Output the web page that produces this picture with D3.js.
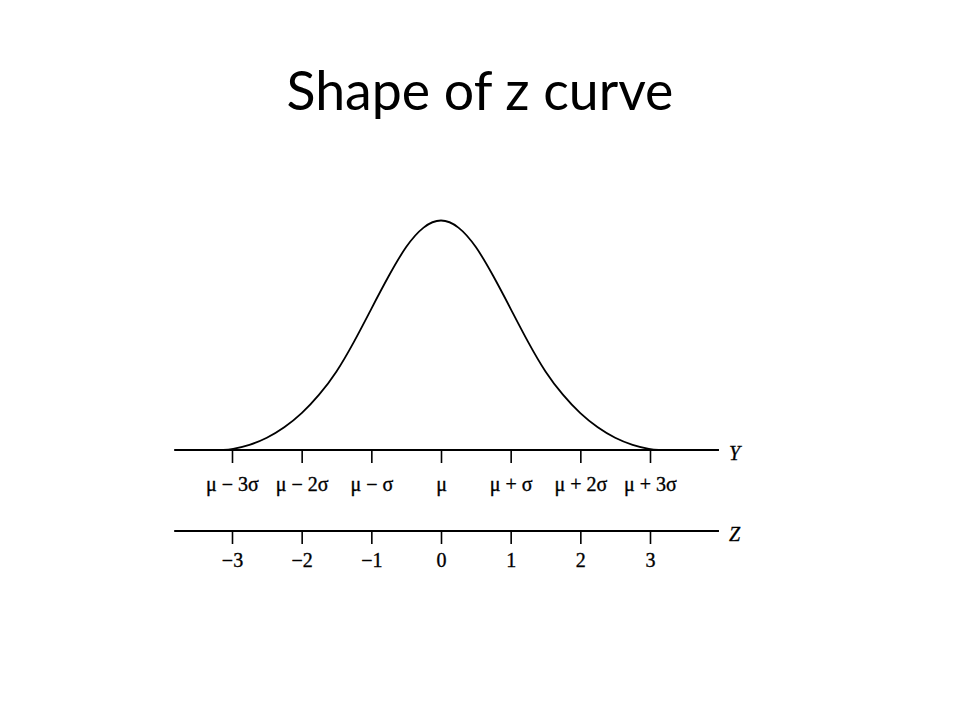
<!DOCTYPE html>
<html><head><meta charset="utf-8">
<script src="https://cdn.jsdelivr.net/npm/d3@7"></script>
<style>body{margin:0;background:#fff}svg{display:block}</style>
</head><body>
<svg id="c" width="960" height="720"></svg>
<script>
// Data
const title = "Shape of z curve";
const zTicks = [-3, -2, -1, 0, 1, 2, 3];
const yTickLabels = ["μ − 3σ", "μ − 2σ", "μ − σ", "μ", "μ + σ", "μ + 2σ", "μ + 3σ"];
const zTickLabels = ["−3", "−2", "−1", "0", "1", "2", "3"];
const curveZ = [-3.15, -3, -2.75, -2.5, -2.25, -2, -1.75, -1.5, -1.25, -1, -0.75, -0.5, -0.25, 0,
                0.25, 0.5, 0.75, 1, 1.25, 1.5, 1.75, 2, 2.25, 2.5, 2.75, 3, 3.15];
const curveDensity = [0, 0.001, 0.008, 0.02, 0.038, 0.062, 0.094, 0.133, 0.185, 0.243, 0.30, 0.352, 0.386, 0.399,
                      0.386, 0.352, 0.30, 0.243, 0.185, 0.133, 0.094, 0.062, 0.038, 0.02, 0.008, 0.001, 0];

const svg = d3.select("#c");
const x = d3.scaleLinear().domain([-3, 3]).range([232, 650]);
const y = d3.scaleLinear().domain([0, 0.399]).range([450, 218]);
const zDomain = [-3.83, 3.99];

// Title
const t = svg.append("text").attr("x", 480).attr("y", 110).attr("text-anchor", "middle")
  .attr("font-family", "Lato, 'Open Sans', sans-serif").attr("font-size", 56).attr("fill", "#000").text(title);
const w = t.node().getComputedTextLength();
t.attr("font-size", 56 * 387 / w);

// Curve
const pts = curveZ.map((z, i) => [z, curveDensity[i]]);
svg.append("path").datum(pts)
  .attr("d", d3.line().x(d => x(d[0])).y(d => y(d[1])).curve(d3.curveBasis))
  .attr("fill", "none").attr("stroke", "#000").attr("stroke-width", 1.8);

function drawAxis(y0, labels, labelY, name) {
  const g = svg.append("g").attr("transform", `translate(0,${y0})`);
  const ax = d3.axisBottom(x).tickValues(zTicks).tickSize(13).tickSizeOuter(0).tickFormat((d, i) => labels[i]);
  g.call(ax);
  g.attr("font-size", null).attr("font-family", null);
  g.select(".domain").attr("d", `M${x(zDomain[0])},0H${x(zDomain[1])}`).attr("stroke", "#000").attr("stroke-width", 2);
  g.selectAll(".tick line").attr("stroke", "#000").attr("stroke-width", 1.6);
  g.selectAll(".tick text").attr("y", labelY).attr("dy", 0)
    .style("font-family", "'Liberation Serif', 'DejaVu Serif', serif").style("font-size", "20px")
    .attr("fill", "#000").attr("stroke", "#000").attr("stroke-width", 0.35);
  svg.append("text").attr("x", 729).attr("y", y0 + 10)
    .style("font-family", "'Liberation Serif', serif").style("font-style", "italic").style("font-size", "20px")
    .attr("fill", "#000").attr("stroke", "#000").attr("stroke-width", 0.3).text(name);
}
drawAxis(450, yTickLabels, 41, "Y");
drawAxis(531, zTickLabels, 36, "Z");
</script>
</body></html>
